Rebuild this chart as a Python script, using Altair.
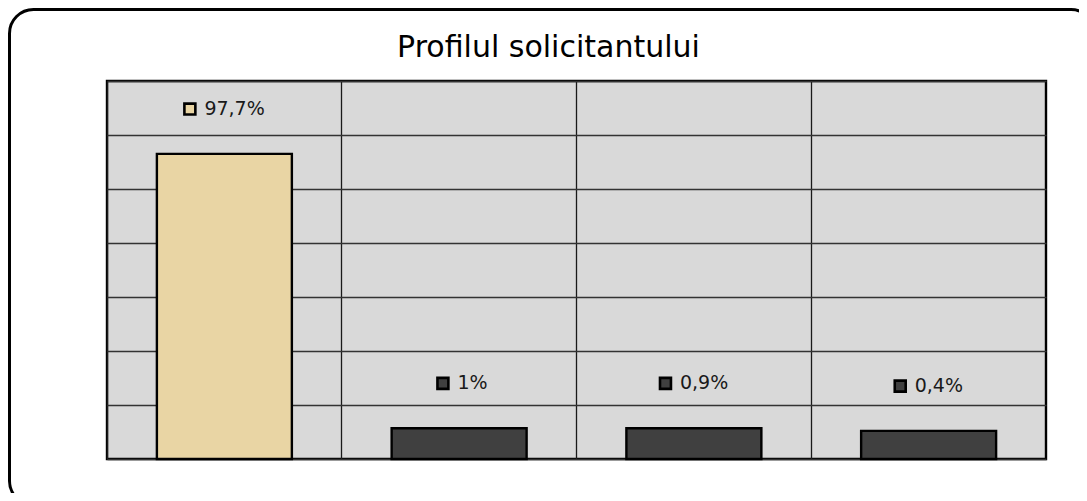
import altair as alt
import pandas as pd

categories = ["Categoria 1", "Categoria 2", "Categoria 3", "Categoria 4"]
bar_heights = [5.65, 0.57, 0.57, 0.52]   # bar heights in grid units
labels = ["97,7%", "1%", "0,9%", "0,4%"]
colors = ["#E9D5A4", "#404040", "#404040", "#404040"]
title_text = "Profilul solicitantului"

df = pd.DataFrame({"cat": categories, "h": bar_heights, "label": labels, "color": colors})

FONT = "DejaVu Sans"
W, H = 939, 378
HALF_BAND = W / len(categories) / 2

xenc = alt.X(
    "cat:N", sort=categories,
    scale=alt.Scale(paddingInner=0, paddingOuter=0),
    axis=alt.Axis(labels=False, ticks=False, domain=False, title=None, grid=True,
                  bandPosition=0, gridColor="#1a1a1a", gridWidth=1.3),
)
yscale = alt.Scale(domain=[0, 7], nice=False)
yenc = alt.Y(
    "h:Q", scale=yscale,
    axis=alt.Axis(values=list(range(8)), labels=False, ticks=False, domain=False,
                  title=None, grid=True, gridColor="#333333", gridWidth=1.3),
)

base = alt.Chart(df).encode(x=xenc)

bars = base.mark_bar(width=alt.RelativeBandSize(0.575), stroke="black", strokeWidth=2.4).encode(
    y=yenc, fill=alt.Fill("color:N", scale=None)
)

lab = base.transform_calculate(
    w="length(datum.label) * 12.2",
    soff=f"{HALF_BAND} - (datum.w + 21) / 2 + 6.5",
    toff=f"{HALF_BAND} - (datum.w + 21) / 2 + 21",
    ly="datum.h + 0.83",
)

squares = lab.mark_square(size=120, stroke="black", strokeWidth=2.6, opacity=1).encode(
    y=alt.Y("ly:Q", scale=yscale),
    xOffset=alt.XOffset("soff:Q", scale=None),
    fill=alt.Fill("color:N", scale=None),
)

texts = lab.mark_text(align="left", baseline="middle", fontSize=19, font=FONT, color="#1a1a1a").encode(
    y=alt.Y("ly:Q", scale=yscale),
    xOffset=alt.XOffset("toff:Q", scale=None),
    text="label:N",
)

frame = alt.Chart(pd.DataFrame({"a": [0]})).mark_rect(
    fill="transparent", stroke="black", strokeWidth=3, cornerRadius=24, clip=False
).encode(
    x=alt.value(-97.5), x2=alt.value(988), y=alt.value(-71.5), y2=alt.value(424)
)

title = alt.Chart(pd.DataFrame({"t": [title_text]})).mark_text(
    fontSize=30, font=FONT, color="black", align="center", baseline="alphabetic"
).encode(
    text="t:N", x=alt.value(441.5), y=alt.value(-24)
)

chart = alt.layer(bars, squares, texts, frame, title).properties(
    width=W, height=H,
    autosize=alt.AutoSizeParams(type="none"),
    padding={"left": 99, "top": 73, "right": 33, "bottom": 34},
    background="white",
).configure_view(
    fill="#D9D9D9", stroke="black", strokeWidth=2.4
)

chart.save("out.html", embed_options={"renderer": "svg", "actions": False})
